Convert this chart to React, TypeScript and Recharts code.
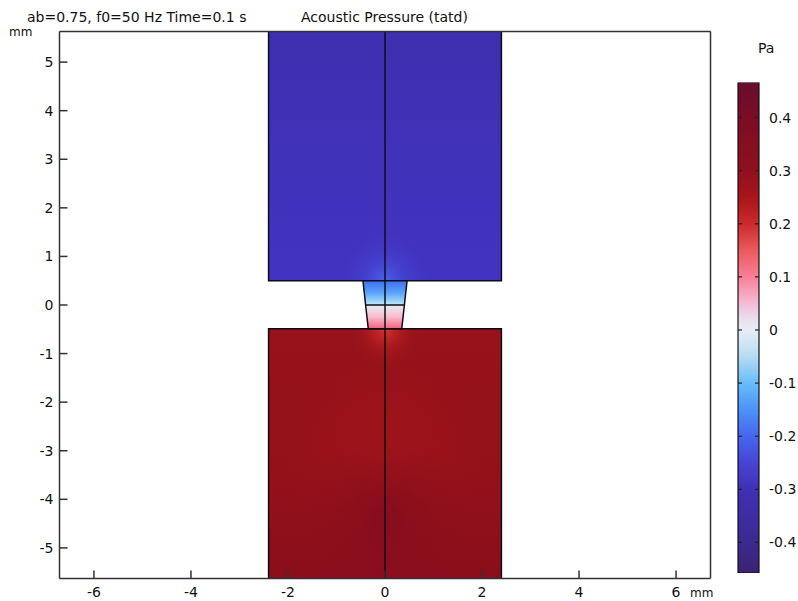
import {
  Area,
  Bar,
  ComposedChart,
  Line,
  XAxis,
  YAxis,
} from "recharts";

const X_MAX = 6.71;
const Y_MAX = 5.63;
const xTicks = [-6, -4, -2, 0, 2, 4, 6];
const yTicks = [-5, -4, -3, -2, -1, 0, 1, 2, 3, 4, 5];
const colorTicks = [-0.4, -0.3, -0.2, -0.1, 0, 0.1, 0.2, 0.3, 0.4];

// domain pieces, y given as [low, high] bands (mm)
const upperBlock = [
  { x: -2.4, band: [0.5, Y_MAX] },
  { x: 2.4, band: [0.5, Y_MAX] },
];
const lowerBlock = [
  { x: -2.4, band: [-Y_MAX, -0.49] },
  { x: 2.4, band: [-Y_MAX, -0.49] },
];
const throat = [
  { x: -0.455, band: [0.5, 0.5] },
  { x: -0.345, band: [-0.49, 0.5] },
  { x: 0.345, band: [-0.49, 0.5] },
  { x: 0.455, band: [0.5, 0.5] },
];

// outlines
const upperOutline = [
  { x: -2.4, y: Y_MAX },
  { x: -2.4, y: 0.5 },
  { x: 2.4, y: 0.5 },
  { x: 2.4, y: Y_MAX },
];
const lowerOutline = [
  { x: -2.4, y: -Y_MAX },
  { x: -2.4, y: -0.49 },
  { x: 2.4, y: -0.49 },
  { x: 2.4, y: -Y_MAX },
];
const throatOutline = [
  { x: -0.455, y: 0.5 },
  { x: -0.345, y: -0.49 },
  { x: 0.345, y: -0.49 },
  { x: 0.455, y: 0.5 },
];
const midLine = [
  { x: -0.4, y: 0 },
  { x: 0.4, y: 0 },
];
const axisLine = [
  { x: 0, y: Y_MAX },
  { x: 0, y: -Y_MAX },
];

const colorBar = [{ name: "p", range: [-0.4576, 0.466] }];
// value, colour of the legend ramp
const rampValues = [0.466, 0.4, 0.3, 0.25, 0.2, 0.15, 0.1, 0.05, 0.02, 0, -0.05, -0.1, -0.15, -0.2, -0.25, -0.3, -0.4, -0.4576];
const rampColors = [
  "#680d2f", "#7b0d24", "#8f101d", "#a8151b", "#cc2a2a", "#ea5a5e", "#f97f97", "#f3bcd4",
  "#e8e0ee", "#e8eef4", "#b5dcf2", "#68bcfb", "#4d92f8", "#4766ef", "#4645d4", "#4030b4", "#3c2a90", "#3c2272",
];

const TEXT = "#111";
const FONT = "'DejaVu Sans', sans-serif";

function ColorTick({ x, y, payload }: any) {
  return (
    <g>
      <line x1={x} x2={x - 4} y1={y} y2={y} stroke="#222" strokeWidth={1.2} />
      <line x1={x - 21} x2={x - 17} y1={y} y2={y} stroke="#222" strokeWidth={1.2} />
      <text x={x + 10} y={y + 5} fontSize={14} fontFamily={FONT} fill={TEXT}>
        {payload.value}
      </text>
    </g>
  );
}

function series(data: any[], fill: string) {
  return (
    <Area
      data={data}
      dataKey="band"
      type="linear"
      fill={fill}
      fillOpacity={1}
      stroke="none"
      dot={false}
      activeDot={false}
      isAnimationActive={false}
    />
  );
}

function outline(data: any[], width = 1.5) {
  return (
    <Line
      data={data}
      dataKey="y"
      type="linear"
      stroke="#0c0c14"
      strokeWidth={width}
      dot={false}
      activeDot={false}
      isAnimationActive={false}
    />
  );
}

export default function App() {
  const tickStyle = { fontSize: 14, fontFamily: FONT, fill: TEXT };
  const frame = { stroke: "#333", strokeWidth: 1.5 };

  return (
    <div style={{ position: "absolute", left: 0, top: 0, width: 798, height: 601 }}>
      <ComposedChart
        width={798}
        height={601}
        margin={{ top: 30.5, right: 86.5, bottom: 21.5, left: 58.5 }}
        style={{ position: "absolute", left: 0, top: 0 }}
      >
        <defs>
          <linearGradient id="upperBase" x1="0" y1="0" x2="0" y2="1">
            <stop offset="0%" stopColor="#3e2fb0" />
            <stop offset="100%" stopColor="#4234c2" />
          </linearGradient>
          <radialGradient id="upperGlow" cx="0.5" cy="1" r="0.2">
            <stop offset="0%" stopColor="#4a62ee" stopOpacity={1} />
            <stop offset="35%" stopColor="#4750de" stopOpacity={0.55} />
            <stop offset="100%" stopColor="#4234c2" stopOpacity={0} />
          </radialGradient>
          <linearGradient id="lowerBase" x1="0" y1="0" x2="0" y2="1">
            <stop offset="0%" stopColor="#97121a" />
            <stop offset="55%" stopColor="#95111a" />
            <stop offset="100%" stopColor="#8a0e1b" />
          </linearGradient>
          <radialGradient id="lowerBand" cx="0.5" cy="0.5" r="0.42">
            <stop offset="0%" stopColor="#a5151a" stopOpacity={1} />
            <stop offset="100%" stopColor="#98121a" stopOpacity={0} />
          </radialGradient>
          <radialGradient id="lowerDark" cx="0.5" cy="0.76" r="0.36">
            <stop offset="0%" stopColor="#860d1d" stopOpacity={1} />
            <stop offset="100%" stopColor="#8a0e1b" stopOpacity={0} />
          </radialGradient>
          <radialGradient id="lowerGlow" cx="0.5" cy="0" r="0.16">
            <stop offset="0%" stopColor="#d8352f" stopOpacity={1} />
            <stop offset="45%" stopColor="#b81e20" stopOpacity={0.6} />
            <stop offset="100%" stopColor="#98121a" stopOpacity={0} />
          </radialGradient>
          <linearGradient id="throatFill" x1="0" y1="0" x2="0" y2="1">
            <stop offset="0%" stopColor="#3f6ff0" />
            <stop offset="25%" stopColor="#5aa2fa" />
            <stop offset="44%" stopColor="#a0d8f8" />
            <stop offset="53%" stopColor="#e6e8f2" />
            <stop offset="74%" stopColor="#f8c0d0" />
            <stop offset="100%" stopColor="#f45f7f" />
          </linearGradient>
        </defs>

        {series(upperBlock, "url(#upperBase)")}
        {series(upperBlock, "url(#upperGlow)")}
        {series(lowerBlock, "url(#lowerBase)")}
        {series(lowerBlock, "url(#lowerBand)")}
        {series(lowerBlock, "url(#lowerDark)")}
        {series(lowerBlock, "url(#lowerGlow)")}
        {series(throat, "url(#throatFill)")}

        {outline(upperOutline)}
        {outline(lowerOutline)}
        {outline(throatOutline)}
        {outline(midLine)}
        {outline(axisLine)}

        <XAxis
          dataKey="x"
          type="number"
          domain={[-X_MAX, X_MAX]}
          allowDataOverflow
          ticks={xTicks}
          interval={0}
          height={1}
          tickSize={-8}
          tickMargin={17}
          tick={tickStyle}
          axisLine={frame}
          tickLine={frame}
        />
        <XAxis
          xAxisId="top"
          orientation="top"
          dataKey="x"
          type="number"
          domain={[-X_MAX, X_MAX]}
          allowDataOverflow
          ticks={xTicks}
          interval={0}
          height={1}
          tickSize={-8}
          tick={false}
          axisLine={frame}
          tickLine={frame}
        />
        <YAxis
          type="number"
          domain={[-Y_MAX, Y_MAX]}
          allowDataOverflow
          ticks={yTicks}
          interval={0}
          width={1}
          tickSize={-8}
          tickMargin={14}
          tick={tickStyle}
          axisLine={frame}
          tickLine={frame}
        />
        <YAxis
          yAxisId="right"
          orientation="right"
          type="number"
          domain={[-Y_MAX, Y_MAX]}
          allowDataOverflow
          ticks={yTicks}
          interval={0}
          width={1}
          tickSize={-8}
          tick={false}
          axisLine={frame}
          tickLine={frame}
        />

        <text x={27} y={22} fontSize={14} fontFamily={FONT} fill={TEXT}>
          ab=0.75, f0=50 Hz Time=0.1 s
        </text>
        <text x={301} y={22} fontSize={14} fontFamily={FONT} fill={TEXT}>
          Acoustic Pressure (tatd)
        </text>
        <text x={9} y={36} fontSize={12} fontFamily={FONT} fill={TEXT}>
          mm
        </text>
        <text x={690} y={597} fontSize={12} fontFamily={FONT} fill={TEXT}>
          mm
        </text>
      </ComposedChart>

      <ComposedChart
        width={798}
        height={601}
        data={colorBar}
        barCategoryGap={0}
        margin={{ top: 82.5, right: 38, bottom: 28, left: 738 }}
        style={{ position: "absolute", left: 0, top: 0 }}
      >
        <defs>
          <linearGradient id="ramp" x1="0" y1="0" x2="0" y2="1">
            {rampValues.map((v, i) => (
              <stop
                key={v}
                offset={(0.466 - v) / (0.466 + 0.4576)}
                stopColor={rampColors[i]}
              />
            ))}
          </linearGradient>
        </defs>
        <XAxis dataKey="name" hide />
        <Bar
          dataKey="range"
          fill="url(#ramp)"
          stroke="#111"
          strokeWidth={1.2}
          isAnimationActive={false}
        />
        <YAxis
          orientation="right"
          type="number"
          domain={[-0.4576, 0.466]}
          allowDataOverflow
          ticks={colorTicks}
          interval={0}
          width={1}
          tickSize={0}
          tickMargin={0}
          axisLine={false}
          tickLine={false}
          tick={<ColorTick />}
        />
        <text x={758} y={53} fontSize={14} fontFamily={FONT} fill={TEXT}>
          Pa
        </text>
      </ComposedChart>
    </div>
  );
}
